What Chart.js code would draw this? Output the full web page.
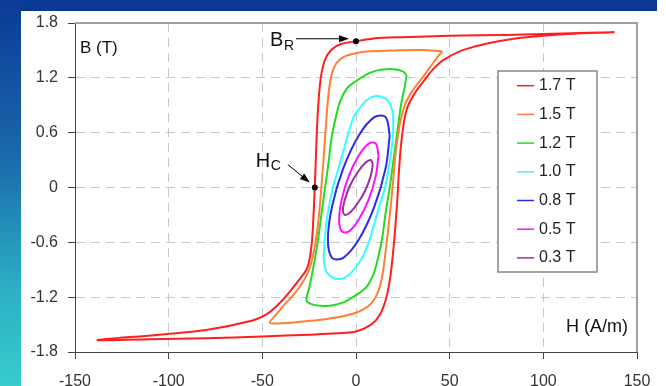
<!DOCTYPE html>
<html>
<head>
<meta charset="utf-8">
<script src="https://cdn.jsdelivr.net/npm/chart.js@4"></script>
<style>
  html, body { margin: 0; padding: 0; background: #fff; }
  body { width: 666px; height: 386px; position: relative; overflow: hidden; }
  #band { position: absolute; left: 0; top: 0; width: 657px; height: 11px; background: #0b3a96; }
  #strip { position: absolute; left: 0; top: 0; width: 21px; height: 386px;
    background: linear-gradient(to bottom, #0b3a96 0%, #1a68ab 40%, #2cb0c4 75%, #36cccc 100%); }
  #wrap { position: absolute; left: 21px; top: 11px; width: 636px; height: 375px; }
</style>
</head>
<body>
<div id="band"></div>
<div id="strip"></div>
<div id="wrap"><canvas id="chart" width="636" height="375"></canvas></div>
<script>
// axis ticks
const hTicks = [-150, -100, -50, 0, 50, 100, 150];
const bTicks = [-1.8, -1.2, -0.6, 0, 0.6, 1.2, 1.8];

// legend labels, one per loop
const seriesLabels = ['1.7 T', '1.5 T', '1.2 T', '1.0 T', '0.8 T', '0.5 T', '0.3 T'];

// loops: H (A/m) and B (T), upper branch then lower branch
const h17 = [138, 110, 80, 50, 25, 12, 0, -8, -13, -16.5, -18.8, -20.3, -21.2, -22, -22.8, -23.8, -26, -30, -35, -41, -48, -58, -80, -105, -138,
             -110, -80, -50, -25, -10, 0, 8, 12.5, 16, 18.5, 20.5, 22, 23, 24.5, 27, 31, 36, 41, 47, 59.5, 85, 113, 138];
const b17 = [1.70, 1.685, 1.67, 1.66, 1.645, 1.635, 1.60, 1.57, 1.51, 1.40, 1.20, 0.85, 0.45, 0, -0.35, -0.65, -0.88, -1.0, -1.13, -1.27, -1.39, -1.47, -1.56, -1.61, -1.67,
             -1.66, -1.65, -1.63, -1.61, -1.595, -1.575, -1.50, -1.40, -1.22, -0.95, -0.55, -0.15, 0.2, 0.55, 0.85, 1.02, 1.16, 1.29, 1.40, 1.52, 1.63, 1.68, 1.70];

const h15 = [46, 35, 20, 8, 0, -6.5, -10.5, -13, -14.5, -15.8, -17, -18.5, -20, -22, -25, -29.5, -34, -39, -43, -46,
             -40, -30, -20, -10, 0, 6.5, 10.5, 13.5, 15.5, 17.5, 19.5, 21, 23, 26, 30.5, 35, 40, 44, 46];
const b15 = [1.49, 1.505, 1.50, 1.49, 1.47, 1.43, 1.36, 1.24, 1.05, 0.75, 0.4, 0, -0.35, -0.65, -0.9, -1.07, -1.19, -1.30, -1.40, -1.48,
             -1.485, -1.47, -1.45, -1.42, -1.37, -1.30, -1.2, -1.02, -0.75, -0.4, 0, 0.35, 0.65, 0.9, 1.07, 1.19, 1.33, 1.44, 1.49];

const h12 = [27, 25, 20, 14, 8, 3.5, -1, -5, -8.5, -11, -13, -14.8, -16.5, -18.5, -20.5, -23, -25, -26.5,
             -24.5, -19, -13, -7, -2.5, 2, 6, 9.5, 12, 14, 16, 18, 20, 22, 24, 26, 27];
const b12 = [1.23, 1.27, 1.295, 1.29, 1.26, 1.21, 1.15, 1.08, 0.94, 0.75, 0.55, 0.25, 0, -0.3, -0.6, -0.9, -1.1, -1.23,
             -1.27, -1.295, -1.29, -1.26, -1.21, -1.15, -1.08, -0.94, -0.75, -0.55, -0.25, 0, 0.3, 0.6, 0.9, 1.1, 1.23];

const h10 = [19.8, 17.5, 14, 10, 6, 2, -1.5, -4.1, -7, -9.8, -12.3, -14.5, -16, -16.8, -17.2,
             -15.5, -12, -8, -4, 0, 3.5, 7, 10, 12.8, 15.5, 17.5, 19, 19.8, 19.8];
const b10 = [0.82, 0.94, 0.99, 1.0, 0.96, 0.87, 0.76, 0.59, 0.38, 0.18, 0, -0.22, -0.42, -0.62, -0.8,
             -0.93, -0.99, -1.0, -0.96, -0.87, -0.76, -0.59, -0.38, -0.18, 0, 0.22, 0.42, 0.62, 0.82];

const h08 = [18, 15.8, 9.8, 1.5, -6.8, -12.8, -15, -12.8, -6.8, 1.5, 9.8, 15.8, 18];
const b08 = [0.57, 0.77, 0.77, 0.57, 0.21, -0.21, -0.57, -0.77, -0.77, -0.57, -0.21, 0.21, 0.57];

const h05 = [12, 10.6, 6.8, 1.5, -3.8, -7.6, -9, -7.6, -3.8, 1.5, 6.8, 10.6, 12];
const b05 = [0.35, 0.48, 0.48, 0.35, 0.13, -0.13, -0.35, -0.48, -0.48, -0.35, -0.13, 0.13, 0.35];

const h03 = [9, 7.9, 5, 1, -3, -5.9, -7, -5.9, -3, 1, 5, 7.9, 9];
const b03 = [0.25, 0.30, 0.27, 0.17, 0.03, -0.13, -0.25, -0.30, -0.27, -0.17, -0.03, 0.13, 0.25];

// marked points: remanence and coercivity
const brPoint = [0, 1.6];
const hcPoint = [-22, 0];

const loopsH = [h17, h15, h12, h10, h08, h05, h03];
const loopsB = [b17, b15, b12, b10, b08, b05, b03];
const seriesColors = ['#ff1f1f', '#ff8034', '#22dd22', '#33ffff', '#2a2af0', '#ff10ff', '#993399'];

const FONT = '"Liberation Sans", Arial, sans-serif';
Chart.defaults.font.family = FONT;
Chart.defaults.color = '#333';

const datasets = seriesLabels.map((label, i) => ({
    label: label,
    data: loopsH[i].map((h, j) => ({ x: h, y: loopsB[i][j] })),
    showLine: true,
    borderColor: seriesColors[i],
    borderWidth: 2,
    pointRadius: 0,
    tension: 0.35,
    fill: false
}));

function arrow(ctx, x1, y1, x2, y2) {
    const ang = Math.atan2(y2 - y1, x2 - x1);
    ctx.beginPath();
    ctx.moveTo(x1, y1);
    ctx.lineTo(x2 - 6 * Math.cos(ang), y2 - 6 * Math.sin(ang));
    ctx.stroke();
    ctx.beginPath();
    ctx.moveTo(x2, y2);
    ctx.lineTo(x2 - 10 * Math.cos(ang) + 3.5 * Math.sin(ang), y2 - 10 * Math.sin(ang) - 3.5 * Math.cos(ang));
    ctx.lineTo(x2 - 10 * Math.cos(ang) - 3.5 * Math.sin(ang), y2 - 10 * Math.sin(ang) + 3.5 * Math.cos(ang));
    ctx.closePath();
    ctx.fill();
}

// frame, labels, arrows and legend box
const decor = {
    id: 'decor',
    afterDraw(chart) {
        const { ctx, chartArea: a, scales: { x, y } } = chart;
        ctx.save();

        // top + right frame
        ctx.strokeStyle = '#a0a0a0';
        ctx.lineWidth = 2;
        ctx.beginPath();
        ctx.moveTo(a.left, a.top);
        ctx.lineTo(a.right, a.top);
        ctx.lineTo(a.right, a.bottom);
        ctx.stroke();

        // axis titles
        ctx.fillStyle = '#111';
        ctx.textBaseline = 'middle';
        ctx.font = '17px ' + FONT;
        ctx.textAlign = 'left';
        ctx.fillText('B (T)', a.left + 5, a.top + 25);
        ctx.font = '18px ' + FONT;
        ctx.textAlign = 'right';
        ctx.fillText('H (A/m)', a.right - 9, a.bottom - 25);

        // B_R
        const bx = x.getPixelForValue(brPoint[0]), by = y.getPixelForValue(brPoint[1]);
        ctx.fillStyle = '#000';
        ctx.strokeStyle = '#000';
        ctx.lineWidth = 1;
        ctx.beginPath(); ctx.arc(bx, by, 3, 0, Math.PI * 2); ctx.fill();
        arrow(ctx, bx - 60, by - 2.5, bx - 7, by - 2.5);
        ctx.textAlign = 'left';
        ctx.textBaseline = 'alphabetic';
        ctx.fillStyle = '#111';
        ctx.font = '20px ' + FONT;
        ctx.fillText('B', bx - 86, by + 5);
        ctx.font = '14px ' + FONT;
        ctx.fillText('R', bx - 72, by + 9);

        // H_C
        const hx = x.getPixelForValue(hcPoint[0]), hy = y.getPixelForValue(hcPoint[1]);
        ctx.fillStyle = '#000';
        ctx.beginPath(); ctx.arc(hx, hy, 3, 0, Math.PI * 2); ctx.fill();
        arrow(ctx, hx - 27, hy - 23, hx - 5, hy - 5);
        ctx.fillStyle = '#111';
        ctx.font = '20px ' + FONT;
        ctx.fillText('H', hx - 59, hy - 21);
        ctx.font = '14px ' + FONT;
        ctx.fillText('C', hx - 44, hy - 18);

        // legend box
        const lx = a.right - 139, ly = a.top + 48, lw = 99, lh = 201;
        ctx.fillStyle = '#fff';
        ctx.fillRect(lx, ly, lw, lh);
        ctx.strokeStyle = '#888';
        ctx.lineWidth = 1.5;
        ctx.strokeRect(lx, ly, lw, lh);
        ctx.font = '16px ' + FONT;
        ctx.textBaseline = 'middle';
        seriesLabels.forEach((lab, i) => {
            const yy = ly + 14.7 + i * 28.7;
            ctx.strokeStyle = seriesColors[i];
            ctx.lineWidth = 1.5;
            ctx.beginPath();
            ctx.moveTo(lx + 19, yy);
            ctx.lineTo(lx + 36, yy);
            ctx.stroke();
            ctx.fillStyle = '#222';
            ctx.fillText(lab, lx + 41, yy);
        });
        ctx.restore();
    }
};

const gridColor = c => (c.index === 0 || c.index === 6) ? 'rgba(0,0,0,0)' : '#c8c8c8';

new Chart(document.getElementById('chart'), {
    type: 'scatter',
    data: { datasets: datasets },
    options: {
        responsive: false,
        animation: false,
        layout: { autoPadding: false, padding: { top: 12, right: 20, left: 0, bottom: 0 } },
        plugins: { legend: { display: false }, tooltip: { enabled: false } },
        scales: {
            x: {
                min: -150, max: 150,
                afterBuildTicks: s => { s.ticks = hTicks.map(v => ({ value: v })); },
                // fixed axis band, no extra padding for edge labels
                afterFit: s => { s.height = 34; s.paddingLeft = 0; s.paddingRight = 0; },
                ticks: { font: { size: 16 }, color: '#333', padding: 13, callback: v => String(v) },
                grid: { color: gridColor, tickColor: '#444', tickLength: 7, lineWidth: 1 },
                border: { color: '#444', width: 1, dash: [9, 6] }
            },
            y: {
                min: -1.8, max: 1.8,
                afterBuildTicks: s => { s.ticks = bTicks.map(v => ({ value: v })); },
                afterFit: s => { s.width = 54; s.paddingTop = 0; s.paddingBottom = 0; },
                ticks: { font: { size: 16 }, color: '#333', padding: 10, callback: v => String(v) },
                grid: { color: gridColor, tickColor: '#444', tickLength: 7, lineWidth: 1 },
                border: { color: '#444', width: 1, dash: [9, 6] }
            }
        }
    },
    plugins: [decor]
});
</script>
</body>
</html>
